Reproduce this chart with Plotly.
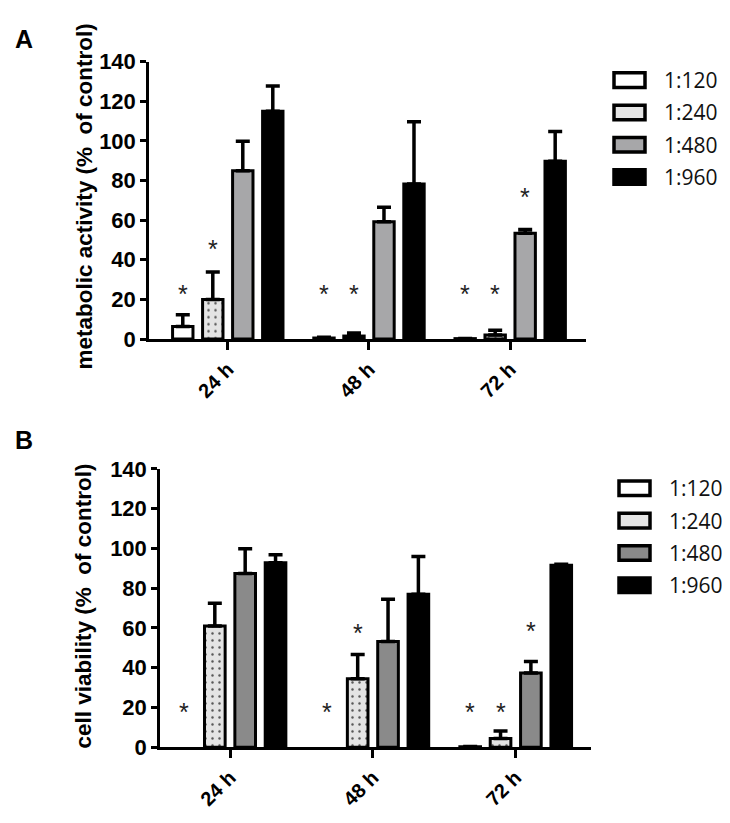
import plotly.graph_objects as go

# ---------------- data ----------------
times = ["24 h", "48 h", "72 h"]
series = ["1:120", "1:240", "1:480", "1:960"]

# Panel A: metabolic activity (% of control)
a_1_120 = [6.3, 0.5, 0.2]
a_1_240 = [20.0, 1.5, 2.0]
a_1_480 = [85.0, 59.2, 53.4]
a_1_960 = [115.0, 78.3, 89.7]
a_err_1_120 = [6.0, 0.4, 0.1]
a_err_1_240 = [13.8, 1.5, 2.4]
a_err_1_480 = [14.8, 7.3, 1.9]
a_err_1_960 = [12.7, 31.4, 15.1]

# Panel B: cell viability (% of control); None = no measurable viability (nothing drawn)
b_1_120 = [None, None, 0.3]
b_1_240 = [61.0, 34.5, 4.4]
b_1_480 = [87.4, 53.2, 37.4]
b_1_960 = [92.8, 77.0, 91.6]
b_err_1_120 = [0.0, 0.0, 0.1]
b_err_1_240 = [11.4, 12.2, 3.7]
b_err_1_480 = [12.4, 21.2, 5.7]
b_err_1_960 = [4.0, 19.0, 0.4]

# significance stars: (time index, series index, y position)
a_stars = [(0, 0, 26), (0, 1, 48.5), (1, 0, 26), (1, 1, 26), (2, 0, 26), (2, 1, 26), (2, 2, 74.5)]
b_stars = [(0, 0, 20.5), (1, 0, 20.5), (1, 1, 60.5), (2, 0, 20.5), (2, 1, 20.5), (2, 2, 61.4)]

y_ticks = [0, 20, 40, 60, 80, 100, 120, 140]

# ---------------- styles ----------------
W, H = 730, 823
BARGAP = 0.15
BARGROUPGAP = 0.32
ARIAL = "Liberation Sans, Arial, sans-serif"
LIGHT_DOT = "#e4e4e4"
a_gray = "#a7a7a9"
b_gray = "#8a8a8a"

def px_x(p):
    return p / W

def px_y(p):
    return 1 - p / H

fig = go.Figure()

def add_panel(vals, errs, gray, xa, ya):
    fills = ["white", LIGHT_DOT, gray, "black"]
    for j, (name, v, e) in enumerate(zip(series, vals, errs)):
        marker = dict(color=fills[j], line=dict(color="black", width=3))
        if j == 1:
            marker["pattern"] = dict(shape=".", bgcolor=LIGHT_DOT, fgcolor="#555555",
                                     size=7, solidity=0.1, fillmode="replace")
        fig.add_trace(go.Bar(
            x=list(range(len(times))), y=v, name=name, showlegend=False,
            xaxis=xa, yaxis=ya, offsetgroup=str(j),
            marker=marker,
            error_y=dict(type="data", symmetric=False, array=e,
                         arrayminus=[0] * len(e), color="black",
                         thickness=3.5, width=7),
        ))

add_panel([a_1_120, a_1_240, a_1_480, a_1_960],
          [a_err_1_120, a_err_1_240, a_err_1_480, a_err_1_960], a_gray, "x", "y")
add_panel([b_1_120, b_1_240, b_1_480, b_1_960],
          [b_err_1_120, b_err_1_240, b_err_1_480, b_err_1_960], b_gray, "x2", "y2")

slot = (1 - BARGAP) / len(series)
annotations = []
shapes = []
for stars, xr, yr in [(a_stars, "x", "y"), (b_stars, "x2", "y2")]:
    for (ti, si, yv) in stars:
        annotations.append(dict(x=ti + (si - 1.5) * slot, y=yv, xref=xr, yref=yr,
                                text="*", showarrow=False, yshift=-6,
                                font=dict(family=ARIAL, size=25, color="#222")))

# panel letters
for letter, yp in [("A", 20), ("B", 433)]:
    annotations.append(dict(x=px_x(5), y=px_y(yp), xref="paper", yref="paper", text=letter,
                            showarrow=False, xanchor="left", yanchor="middle",
                            font=dict(family=ARIAL, size=25, color="black", weight="bold")))

# y-axis titles
annotations.append(dict(x=px_x(76), y=px_y(182), xref="paper", yref="paper",
                        text="metabolic activity (%  of control)", textangle=-90,
                        showarrow=False, xanchor="center", yanchor="middle",
                        font=dict(family=ARIAL, size=22.5, color="black", weight="bold")))
annotations.append(dict(x=px_x(76), y=px_y(605), xref="paper", yref="paper",
                        text="cell viability (%  of control)", textangle=-90,
                        showarrow=False, xanchor="center", yanchor="middle",
                        font=dict(family=ARIAL, size=22.5, color="black", weight="bold")))

# custom legends
def add_legend(x0, y0, gray):
    fills = ["white", LIGHT_DOT, gray, "black"]
    for j, name in enumerate(series):
        yc = y0 + j * 33.3
        shapes.append(dict(type="rect", xref="paper", yref="paper",
                           x0=px_x(x0), x1=px_x(x0 + 31), y0=px_y(yc - 7.5), y1=px_y(yc + 7.5),
                           fillcolor=fills[j], line=dict(color="black", width=3.5)))
        annotations.append(dict(x=px_x(x0 + 48), y=px_y(yc), xref="paper", yref="paper",
                                text=name, showarrow=False, xanchor="left", yanchor="middle",
                                font=dict(family="Open Sans", size=21, color="#111")))

add_legend(606, 62, a_gray)
add_legend(611, 483, b_gray)

axis_common = dict(showline=True, linecolor="black", linewidth=2.5, ticks="outside",
                   tickcolor="black", tickwidth=2.5, showgrid=False, zeroline=False)
xtickfont = dict(family=ARIAL, size=20, color="black", weight="bold")
ytickfont = dict(family=ARIAL, size=22, color="black", weight="bold")

fig.update_layout(
    width=W, height=H, margin=dict(l=0, r=0, t=0, b=0),
    paper_bgcolor="white", plot_bgcolor="white",
    barmode="group", bargap=BARGAP, bargroupgap=BARGROUPGAP,
    showlegend=False,
    xaxis=dict(domain=[px_x(141), px_x(578)], range=[-0.558, 2.537], anchor="y",
               tickvals=list(range(len(times))), ticktext=times, tickangle=-45, ticklen=8,
               tickfont=xtickfont, **axis_common),
    yaxis=dict(domain=[px_y(329), px_y(43)], range=[0, 140], anchor="x",
               tickvals=y_ticks, ticklen=6, tickfont=ytickfont, **axis_common),
    xaxis2=dict(domain=[px_x(152), px_x(583)], range=[-0.49, 2.527], anchor="y2",
                tickvals=list(range(len(times))), ticktext=times, tickangle=-45, ticklen=8,
                tickfont=xtickfont, **axis_common),
    yaxis2=dict(domain=[px_y(750), px_y(463)], range=[0, 140], anchor="x2",
                tickvals=y_ticks, ticklen=6, tickfont=ytickfont, **axis_common),
    annotations=annotations, shapes=shapes,
)

fig.write_html("out.html")
